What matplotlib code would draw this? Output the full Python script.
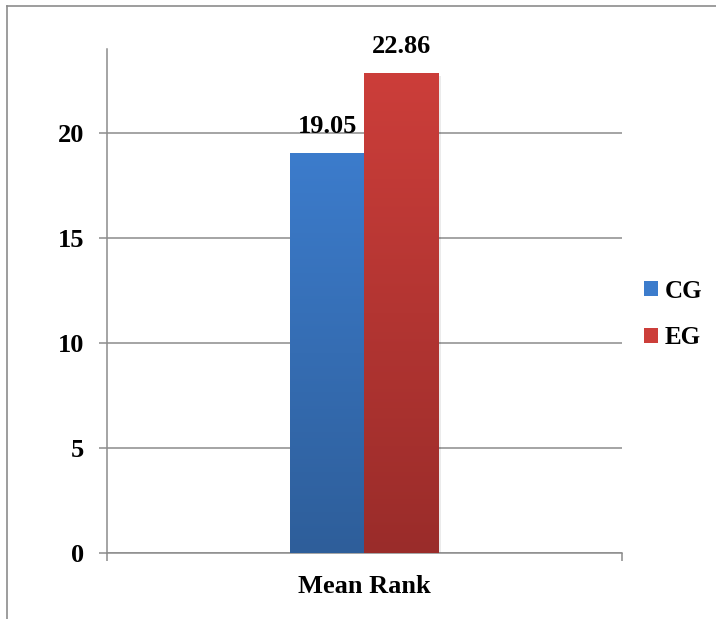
import matplotlib.pyplot as plt
import numpy as np
from matplotlib.colors import LinearSegmentedColormap
from matplotlib.lines import Line2D
from matplotlib.patches import Patch

plt.rcParams['font.family'] = ['Liberation Serif', 'DejaVu Serif']
plt.rcParams['font.weight'] = 'bold'

# data
category = 'Mean Rank'
groups = ['CG', 'EG']
mean_rank = [19.05, 22.86]
y_ticks = [0, 5, 10, 15, 20]

# top / bottom shades for each bar
top_colors = ['#3c7ccc', '#cc3e3a']
bottom_colors = ['#2e5e9a', '#9a2c2a']

grey = '#8c8c8c'

fig = plt.figure(figsize=(7.16, 6.19), dpi=100)
ax = fig.add_axes([0.1494, 0.1066, 0.7193, 0.8142])

width = 0.145
offsets = [-width / 2, width / 2]
bars = []
for i, (g, v) in enumerate(zip(groups, mean_rank)):
    b = ax.bar(0.5 + offsets[i], v, width=width, color=top_colors[i],
               zorder=3, linewidth=0)[0]
    bars.append(b)
    # vertical gradient clipped to the bar
    cmap = LinearSegmentedColormap.from_list('g%d' % i, [bottom_colors[i], top_colors[i]])
    grad = np.linspace(0, 1, 256).reshape(-1, 1)
    x0 = b.get_x()
    im = ax.imshow(grad, cmap=cmap, origin='lower', aspect='auto',
                   extent=[x0, x0 + width, 0, v], zorder=4)
    im.set_clip_path(b)
    # faint shadow
    ax.bar(0.5 + offsets[i] + 0.004, v, width=width, bottom=-0.15,
           color='black', alpha=0.08, zorder=2, linewidth=0)
    ax.annotate('%.2f' % v, (0.5 + offsets[i], v), xytext=(0, 11),
                textcoords='offset points', ha='center', va='bottom',
                fontsize=19, fontweight='bold')

ax.set_xlim(0, 1)
ax.set_ylim(0, 24)

ax.set_yticks(y_ticks)
ax.set_yticklabels([str(t) for t in y_ticks])
ax.yaxis.grid(True, color=grey, linewidth=1.1, zorder=0)
ax.set_axisbelow(True)
ax.tick_params(axis='y', direction='out', length=5.5, width=1.1, color=grey,
               pad=11, labelsize=19)

ax.set_xticks([0.5])
ax.set_xticklabels([category])
ax.set_xticks([0, 1], minor=True)
ax.tick_params(axis='x', which='major', length=0, pad=16, labelsize=19)
ax.tick_params(axis='x', which='minor', direction='out', length=5.5,
               width=1.1, color=grey)

for s in ['top', 'right']:
    ax.spines[s].set_visible(False)
for s in ['left', 'bottom']:
    ax.spines[s].set_color(grey)
    ax.spines[s].set_linewidth(1.1)

handles = [Patch(facecolor=c, edgecolor='none') for c in top_colors]
fig.legend(handles, groups, loc='center left', bbox_to_anchor=(0.882, 0.492),
           frameon=False, fontsize=18, handlelength=0.56, handleheight=0.56,
           handletextpad=0.25, labelspacing=0.95, borderpad=0)

# outer chart border
fig.add_artist(Line2D([0.0098, 1.0], [0.9903, 0.9903], color=grey, lw=1.2,
                      transform=fig.transFigure))
fig.add_artist(Line2D([0.0098, 0.0098], [0.0, 0.9903], color=grey, lw=1.2,
                      transform=fig.transFigure))

fig.savefig('out.png', dpi=100)
